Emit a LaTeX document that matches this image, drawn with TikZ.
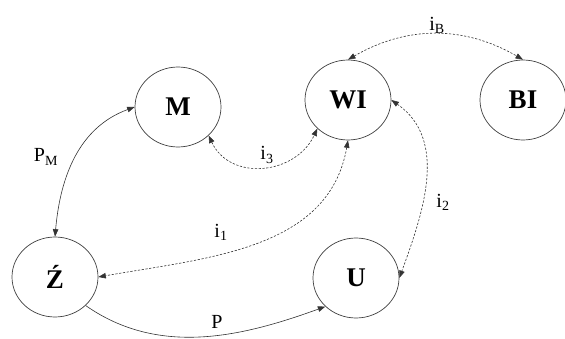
\documentclass[tikz,border=0pt]{standalone}
\usepackage{fontspec}
\setmainfont{Liberation Serif}
\usetikzlibrary{shapes.geometric,arrows.meta}
\tikzset{
  state/.style={ellipse,draw=black!75,line width=.7pt,minimum width=86pt,minimum height=80pt,inner sep=0pt,font=\fontsize{27}{30}\selectfont\bfseries},
  flowlbl/.style={font=\fontsize{20}{24}\selectfont,inner sep=1pt},
  flowline/.style={line width=.6pt,draw=black!80},
  solidarr/.style={flowline,{Triangle[length=7.5pt,width=5.5pt]}-{Triangle[length=7.5pt,width=5.5pt]}},
  onearr/.style={flowline,-{Triangle[length=7.5pt,width=5.5pt]}},
  dasharr/.style={solidarr,dash pattern=on 2.2pt off 1.6pt}
}
\begin{document}
\begin{tikzpicture}[x=1pt,y=1pt]
  \useasboundingbox (0,0) rectangle (565,338);
  % states
  \node[state] (M) at (178,231) {M};
  \node[state] (WI) at (348,238) {WI};
  \node[state] (BI) at (523,238) {BI};
  \node[state] (Z) at (55,61) {Ź};
  \node[state] (U) at (356,60) {U};

  % flows
  \draw[solidarr] (Z.north) to[out=85,in=200] (M.west);
  \draw[dasharr] (M.south east) to[out=-65,in=-115,looseness=1.2] (WI.south west);
  \draw[dasharr] (WI.south) to[out=-100,in=10] (Z.east);
  \draw[dasharr] (WI.east) to[out=-35,in=70] (U.east);
  \draw[dasharr] (WI.north) to[out=30,in=150] (BI.north);
  \draw[onearr] (Z.south east) to[out=-35,in=-160,looseness=.95] (U.south west);

  % labels
  \node[flowlbl] (lPM) at (46,181) {P\textsubscript{M}};
  \node[flowlbl] (li3) at (267,183) {i\textsubscript{3}};
  \node[flowlbl] (li1) at (221,106) {i\textsubscript{1}};
  \node[flowlbl] (li2) at (443,136) {i\textsubscript{2}};
  \node[flowlbl] (liB) at (437,313) {i\textsubscript{B}};
  \node[flowlbl] (lP) at (217,16) {P};
\end{tikzpicture}
\end{document}
